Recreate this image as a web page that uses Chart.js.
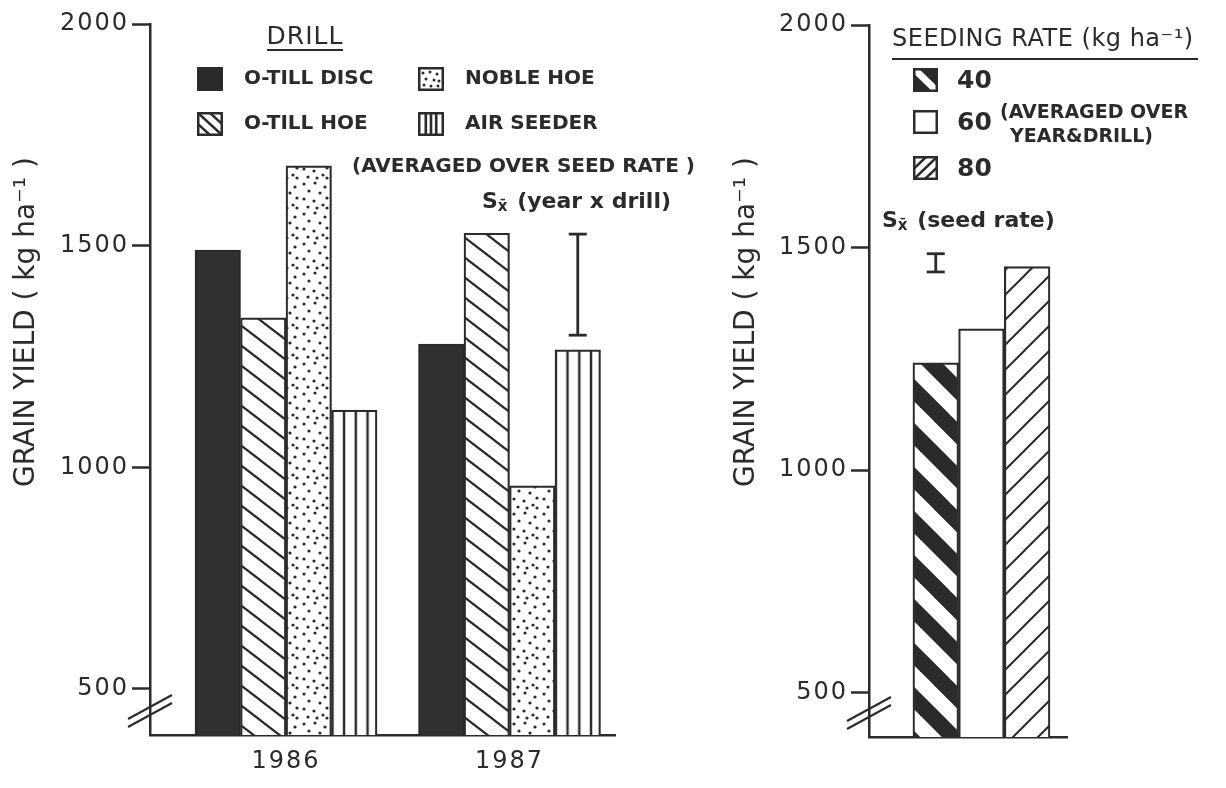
<!DOCTYPE html>
<html>
<head>
<meta charset="utf-8">
<script src="https://cdn.jsdelivr.net/npm/chart.js@4"></script>
<style>
  html, body { margin: 0; padding: 0; background: #fff; }
  #wrap { position: relative; width: 1226px; height: 788px; }
  #drillChart { position: absolute; left: 0; top: 0; }
  #rateChart { position: absolute; left: 700px; top: 0; }
</style>
</head>
<body>
<div id="wrap">
  <canvas id="drillChart" width="700" height="788"></canvas>
  <canvas id="rateChart" width="526" height="788"></canvas>
</div>
<script>
// grain yield, kg ha-1
var years = [1986, 1987];
var drills = ['O-TILL DISC', 'O-TILL HOE', 'NOBLE HOE', 'AIR SEEDER'];
var oTillDisc = [1490, 1278];
var oTillHoe = [1337, 1528];
var nobleHoe = [1680, 958];
var airSeeder = [1129, 1265];
var drillSE = [1298, 1526];      // Sx (year x drill)

var seedRates = ['40', '60', '80'];
var seedYield = [1241, 1317, 1457];
var seedSE = [1445, 1486];       // Sx (seed rate)
var rateGroup = 0;               // single group, averaged over year & drill

var yTicks = [500, 1000, 1500, 2000];

var INK = '#2b2b2b';
var FAM = '"DejaVu Sans", sans-serif';
var YTITLE = 'GRAIN YIELD ( kg ha\u207B\u00B9 )';

// ---- fill patterns ----
function tile(w, h, paint) {
    var c = document.createElement('canvas');
    c.width = w;
    c.height = h;
    var g = c.getContext('2d');
    g.fillStyle = '#fff';
    g.fillRect(0, 0, w, h);
    g.strokeStyle = INK;
    g.fillStyle = INK;
    paint(g, w, h);
    return c;
}

function slant(g, w, h, lw, down) {
    g.lineWidth = lw;
    for (var k = -2; k <= 2; k++) {
        g.beginPath();
        if (down) { g.moveTo(-w, (k - 1) * h); g.lineTo(2 * w, (k + 2) * h); }
        else { g.moveTo(-w, (k + 2) * h); g.lineTo(2 * w, (k - 1) * h); }
        g.stroke();
    }
}

var dotSpots = [[4, 4], [15, 3], [25, 7], [9, 11], [20, 13], [27, 18], [4, 19], [14, 21], [23, 25], [8, 27], [17, 28], [27, 28]];

var hoeTile = tile(26, 20, function (g, w, h) { slant(g, w, h, 2.2, true); });
var dotTile = tile(30, 30, function (g) {
    dotSpots.forEach(function (d) {
        g.beginPath();
        g.arc(d[0], d[1], 1.6, 0, 2 * Math.PI);
        g.fill();
    });
});
var airTile = tile(12, 8, function (g) { g.fillRect(4.75, 0, 2.5, 8); });
var r40Tile = tile(44, 44, function (g, w, h) { slant(g, w, h, 16, true); });
var r80Tile = tile(25, 25, function (g, w, h) { slant(g, w, h, 2, false); });

// ---- text / marks helpers ----
function txt(ctx, s, x, y, size, weight, align, spacing) {
    ctx.save();
    ctx.font = (weight || 'normal') + ' ' + size + 'px ' + FAM;
    ctx.fillStyle = INK;
    ctx.textAlign = align || 'left';
    ctx.textBaseline = 'middle';
    ctx.letterSpacing = (spacing || 0) + 'px';
    ctx.fillText(s, x, y);
    var w = ctx.measureText(s).width;
    ctx.restore();
    return w;
}

function sxLabel(ctx, rest, x, y) {
    var w = txt(ctx, 'S', x, y, 22, 'bold');
    var w2 = txt(ctx, 'x\u0304', x + w, y + 5, 15, 'bold');
    txt(ctx, rest, x + w + w2 + 2, y, 22, 'bold');
}

function yTitle(ctx, cx, cy) {
    ctx.save();
    ctx.translate(cx, cy);
    ctx.rotate(-Math.PI / 2);
    txt(ctx, YTITLE, 0, 0, 28, 'normal', 'center');
    ctx.restore();
}

function seg(ctx, x1, y1, x2, y2, lw) {
    ctx.save();
    ctx.strokeStyle = INK;
    ctx.lineWidth = lw;
    ctx.beginPath();
    ctx.moveTo(x1, y1);
    ctx.lineTo(x2, y2);
    ctx.stroke();
    ctx.restore();
}

function errorBar(ctx, x, yScale, lo, hi) {
    var y1 = yScale.getPixelForValue(lo), y2 = yScale.getPixelForValue(hi);
    seg(ctx, x, y1, x, y2, 2.8);
    seg(ctx, x - 9, y1, x + 9, y1, 2.8);
    seg(ctx, x - 9, y2, x + 9, y2, 2.8);
}

function axisBreak(ctx, area) {
    var a = area.left, b = area.bottom;
    seg(ctx, a - 22, b - 16, a + 22, b - 40, 2.2);
    seg(ctx, a - 22, b - 8, a + 22, b - 32, 2.2);
}

function swatch(ctx, kind, x, y, w, h) {
    ctx.save();
    ctx.beginPath();
    ctx.rect(x, y, w, h);
    ctx.clip();
    ctx.fillStyle = '#fff';
    ctx.fillRect(x, y, w, h);
    ctx.fillStyle = INK;
    ctx.strokeStyle = INK;
    if (kind === 'solid') ctx.fillRect(x, y, w, h);
    if (kind === 'back') {
        ctx.lineWidth = 2.5;
        [-12, 0, 12].forEach(function (o) {
            ctx.beginPath(); ctx.moveTo(x + o, y); ctx.lineTo(x + o + w, y + h); ctx.stroke();
        });
    }
    if (kind === 'dots') {
        [[5, 6], [12, 5], [19, 7], [8, 12], [16, 13], [21, 14], [6, 18], [13, 19], [20, 19]].forEach(function (d) {
            ctx.beginPath(); ctx.arc(x + d[0], y + d[1], 1.5, 0, 2 * Math.PI); ctx.fill();
        });
    }
    if (kind === 'vert') {
        [0.3, 0.5, 0.7].forEach(function (f) { ctx.fillRect(x + w * f - 1.3, y, 2.6, h); });
    }
    if (kind === 'band') {
        ctx.fillRect(x, y, w, h);
        ctx.strokeStyle = '#fff';
        ctx.lineWidth = 7;
        ctx.beginPath(); ctx.moveTo(x, y); ctx.lineTo(x + w, y + h); ctx.stroke();
    }
    if (kind === 'fwd') {
        ctx.lineWidth = 2.5;
        [-11, 0, 11].forEach(function (o) {
            ctx.beginPath(); ctx.moveTo(x + o, y + h); ctx.lineTo(x + o + w, y); ctx.stroke();
        });
    }
    ctx.restore();
    ctx.save();
    ctx.strokeStyle = INK;
    ctx.lineWidth = 2.5;
    ctx.strokeRect(x + 1.25, y + 1.25, w - 2.5, h - 2.5);
    ctx.restore();
}

var spacedTicks = {
    id: 'spacedTicks',
    beforeDraw: function (chart) { chart.ctx.letterSpacing = '2px'; }
};

function yAxis(min, width) {
    return {
        min: min,
        max: 2000,
        afterBuildTicks: function (s) { s.ticks = yTicks.map(function (v) { return { value: v }; }); },
        afterFit: function (s) { s.width = width; },
        grid: { drawOnChartArea: false, drawTicks: true, tickLength: 18, tickWidth: 2.5, tickColor: INK },
        border: { color: INK, width: 2.5 },
        ticks: { color: INK, padding: 3, font: { family: FAM, size: 24 }, callback: function (v) { return String(v); } }
    };
}

// ---- left panel: drill x year ----
var c1 = document.getElementById('drillChart');
var g1 = c1.getContext('2d');
var airPattern = g1.createPattern(airTile, 'repeat');
airPattern.setTransform(new DOMMatrix([11.763 / 12, 0, 0, 1, 8.76, 0]));
var drillFill = ['#303030', g1.createPattern(hoeTile, 'repeat'), g1.createPattern(dotTile, 'repeat'), airPattern];
var drillSeries = [oTillDisc, oTillHoe, nobleHoe, airSeeder];
var drillSwatch = ['solid', 'back', 'dots', 'vert'];

var drillNotes = {
    id: 'drillNotes',
    afterDraw: function (chart) {
        var ctx = chart.ctx;
        yTitle(ctx, 27, 322);
        txt(ctx, 'DRILL', 305, 37, 25, 'normal', 'center', 1);
        seg(ctx, 267, 50, 343, 50, 2);
        var cols = [197, 418], rows = [79, 124];
        drills.forEach(function (name, i) {
            var x = cols[Math.floor(i / 2)], y = rows[i % 2];
            swatch(ctx, drillSwatch[i], x, y - 12, 26, 24);
            txt(ctx, name, x + 47, y, 20, 'bold');
        });
        txt(ctx, '(AVERAGED OVER SEED RATE )', 352, 167, 20, 'bold');
        sxLabel(ctx, ' (year x drill)', 482, 202);
        var bar = chart.getDatasetMeta(3).data[1];
        errorBar(ctx, bar.x, chart.scales.y, drillSE[0], drillSE[1]);
        axisBreak(ctx, chart.chartArea);
    }
};

new Chart(c1, {
    type: 'bar',
    data: {
        datasets: drills.map(function (name, i) {
            return {
                label: name,
                data: years.map(function (yr, j) { return { x: yr, y: drillSeries[i][j] }; }),
                backgroundColor: drillFill[i],
                borderColor: INK,
                borderWidth: 2.2,
                barThickness: 45.5
            };
        })
    },
    options: {
        responsive: false,
        animation: false,
        layout: { padding: { top: 24, right: 85, bottom: 0, left: 0 } },
        plugins: { legend: { display: false }, tooltip: { enabled: false } },
        scales: {
            x: {
                type: 'linear',
                offset: false,
                min: 1985.3915,
                max: 1987.472,
                afterBuildTicks: function (s) { s.ticks = years.map(function (v) { return { value: v }; }); },
                afterFit: function (s) { s.height = 53; },
                grid: { display: false, drawTicks: false, offset: false },
                border: { color: INK, width: 2.5 },
                ticks: { color: INK, padding: 12, maxRotation: 0, autoSkip: false, font: { family: FAM, size: 24 }, callback: function (v) { return String(v); } }
            },
            y: yAxis(396, 150)
        }
    },
    plugins: [spacedTicks, drillNotes]
});

// ---- right panel: seeding rate ----
var c2 = document.getElementById('rateChart');
var g2 = c2.getContext('2d');
var rateFill = [g2.createPattern(r40Tile, 'repeat'), '#ffffff', g2.createPattern(r80Tile, 'repeat')];
var rateSwatch = ['band', 'open', 'fwd'];

var rateNotes = {
    id: 'rateNotes',
    afterDraw: function (chart) {
        var ctx = chart.ctx;
        yTitle(ctx, 47, 322);
        txt(ctx, 'SEEDING RATE (kg ha\u207B\u00B9)', 192, 40, 24, 'normal', 'left', 0.5);
        seg(ctx, 192, 59, 498, 59, 2);
        var rows = [80, 122, 168];
        seedRates.forEach(function (r, i) {
            swatch(ctx, rateSwatch[i], 213, rows[i] - 12, 25, 24);
            txt(ctx, r, 257, rows[i] + 1, 25, 'bold');
        });
        txt(ctx, '(AVERAGED OVER', 300, 113, 19, 'bold');
        txt(ctx, 'YEAR&DRILL)', 310, 137, 19, 'bold');
        sxLabel(ctx, ' (seed rate)', 182, 221);
        var bar = chart.getDatasetMeta(0).data[0];
        errorBar(ctx, bar.x, chart.scales.y, seedSE[0], seedSE[1]);
        axisBreak(ctx, chart.chartArea);
    }
};

new Chart(c2, {
    type: 'bar',
    data: {
        datasets: seedRates.map(function (r, i) {
            return {
                label: r,
                data: [{ x: rateGroup, y: seedYield[i] }],
                backgroundColor: rateFill[i],
                borderColor: INK,
                borderWidth: 2.2,
                barThickness: 45.7
            };
        })
    },
    options: {
        responsive: false,
        animation: false,
        layout: { padding: { top: 25, right: 159, bottom: 0, left: 0 } },
        plugins: { legend: { display: false }, tooltip: { enabled: false } },
        scales: {
            x: {
                type: 'linear',
                offset: false,
                min: -0.568,
                max: 0.432,
                afterFit: function (s) { s.height = 51; },
                grid: { display: false, drawTicks: false, offset: false },
                border: { color: INK, width: 2.5 },
                ticks: { display: false }
            },
            y: yAxis(400, 169)
        }
    },
    plugins: [spacedTicks, rateNotes]
});
</script>
</body>
</html>
